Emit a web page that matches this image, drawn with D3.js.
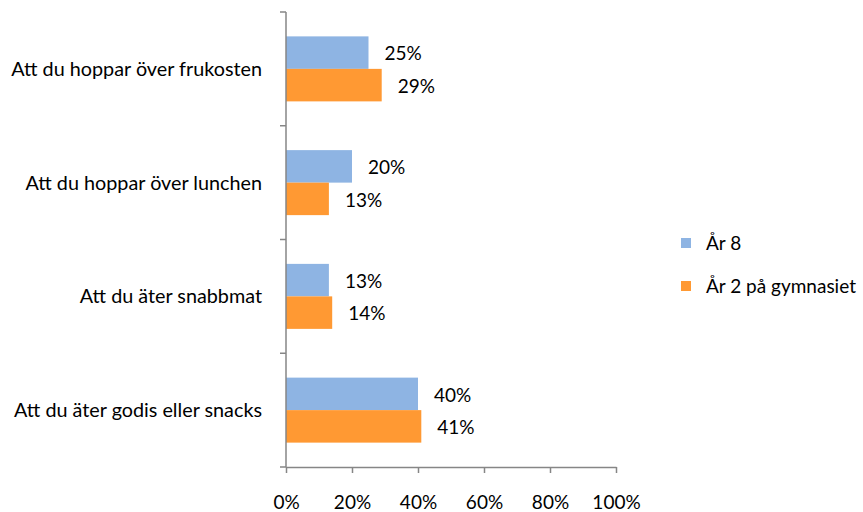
<!DOCTYPE html>
<html><head><meta charset="utf-8">
<script src="https://cdn.jsdelivr.net/npm/d3@7"></script>
<style>body{margin:0;background:#fff;} text{font-family:Lato,"Open Sans",sans-serif;fill:#000;}</style>
</head><body>
<svg id="c" width="863" height="512"></svg>
<script>
const categories = ["Att du hoppar över frukosten","Att du hoppar över lunchen","Att du äter snabbmat","Att du äter godis eller snacks"];
const seriesNames = ["År 8","År 2 på gymnasiet"];
const year8 = [25,20,13,40];
const year2gym = [29,13,14,41];
const xTicks = [0,20,40,60,80,100];
const colors = ["#8EB4E3","#FF9933"];

(function(){
const FS = 19;
const svg = d3.select("#c");
const pLeft = 286, pRight = 616, pTop = 12, pBottom = 467;
const x = d3.scaleLinear().domain([0,100]).range([pLeft,pRight]);
const y = d3.scaleBand().domain(categories).range([pTop,pBottom]).paddingInner(0).paddingOuter(0);
const inner = d3.scaleBand().domain([0,1]).range([0,y.bandwidth()]).paddingInner(0).paddingOuter(0.75);
const data = [year8, year2gym];
data.forEach((vals,si)=>{
  svg.append("g").selectAll("rect").data(categories).join("rect")
    .attr("x",x(0)).attr("y",(d)=>y(d)+inner(si))
    .attr("width",(d,i)=>x(vals[i])-x(0)).attr("height",inner.bandwidth())
    .attr("fill",colors[si]);
  svg.append("g").selectAll("text").data(categories).join("text")
    .attr("x",(d,i)=>x(vals[i])+16).attr("y",(d)=>y(d)+inner(si)+inner.bandwidth()/2+1)
    .attr("dy","0.35em").attr("font-size",FS).text((d,i)=>vals[i]+"%");
});
const ax = svg.append("g").attr("transform",`translate(0,${pBottom})`)
  .call(d3.axisBottom(x).tickValues(xTicks).tickFormat(d=>d+"%").tickSize(6).tickPadding(26).tickSizeOuter(0));
ax.select(".domain").attr("stroke","#868686").attr("stroke-width",1.5);
ax.selectAll(".tick line").attr("stroke","#868686").attr("stroke-width",1.5);
ax.selectAll(".tick text").attr("font-size",FS).attr("font-family","Lato").attr("fill","#000")
  .attr("dy",null).attr("y",null).attr("transform","translate(0,42)").attr("dominant-baseline","auto");
const yTickPos = [pTop].concat(categories.map(c=>y(c)+y.bandwidth()));
const ay = svg.append("g");
ay.append("line").attr("x1",pLeft).attr("x2",pLeft).attr("y1",pTop).attr("y2",pBottom).attr("stroke","#868686").attr("stroke-width",1.5);
ay.selectAll("line.t").data(yTickPos).join("line").attr("class","t")
  .attr("x1",pLeft-6).attr("x2",pLeft).attr("y1",d=>d).attr("y2",d=>d).attr("stroke","#868686").attr("stroke-width",1.5);
ay.selectAll("text").data(categories).join("text")
  .attr("x",pLeft-24).attr("y",d=>y(d)+y.bandwidth()/2).attr("dy","0.35em")
  .attr("text-anchor","end").attr("font-size",19.8).text(d=>d);
const lg = svg.append("g");
seriesNames.forEach((n,i)=>{
  const ly = 243 + i*43;
  lg.append("rect").attr("x",681).attr("y",ly-5).attr("width",10).attr("height",10).attr("fill",colors[i]);
  lg.append("text").attr("x",706).attr("y",ly).attr("dy","0.35em").attr("font-size",FS).text(n);
});
})();
</script>
</body></html>
